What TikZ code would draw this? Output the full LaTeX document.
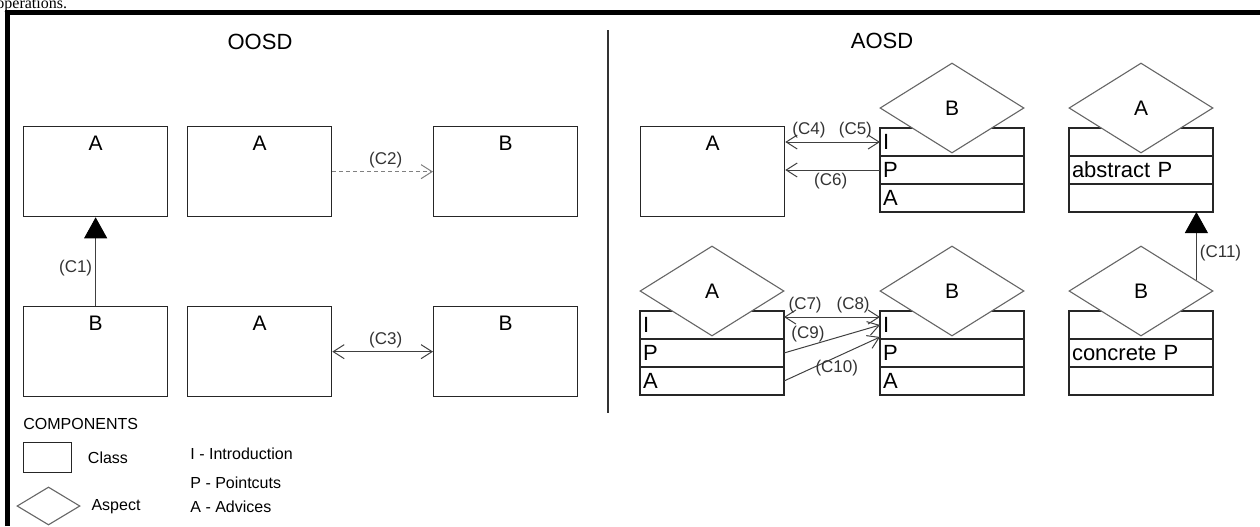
\documentclass[tikz,border=0pt]{standalone}
\usepackage{fontspec}
\setmainfont{Liberation Sans}
\newfontfamily\serifa{Liberation Serif}
\usetikzlibrary{shapes.geometric,arrows.meta,calc}

\begin{document}
\begin{tikzpicture}[x=0.5pt,y=-0.5pt,
    >={Straight Barb[length=5.5pt,width=7pt]},
    classe/.style={draw=black!85,line width=0.65pt,minimum width=72pt,
      inner xsep=0pt,inner ysep=0pt,text height=12pt,text depth=33pt,
      font=\fontsize{10.5}{12}\selectfont},
    fila/.style={draw=black!85,line width=0.65pt,minimum height=14pt,outer sep=0pt,
      inner xsep=1.5pt,inner ysep=0pt,text width=69pt,align=left,
      font=\fontsize{11}{12}\selectfont},
    aspecto/.style={diamond,draw=black!60,line width=0.55pt,fill=white,
      minimum width=72pt,minimum height=45pt,inner sep=0pt,
      font=\fontsize{10.5}{12}\selectfont},
    liga/.style={draw=black!75,line width=0.5pt},
    heranca/.style={liga,-{Triangle[width=11.5pt,length=10.5pt,fill=black,color=black]}},
    rot/.style={font=\fontsize{8.5}{10}\selectfont,text=black!80,inner sep=1.5pt},
    leg/.style={font=\fontsize{8}{10}\selectfont,inner sep=0pt},
    titulo/.style={font=\fontsize{11}{13}\selectfont}]
  \useasboundingbox (0,0) rectangle (1260,526);
  % texto da página e moldura
  \node[anchor=base west,inner sep=0pt,font=\serifa\fontsize{8}{9}\selectfont] (prosa) at (-4,8.5) {operations.};
  \draw[line width=2.5pt,line join=miter] (7.5,526) -- (7.5,12.5) -- (1260,12.5);
  \draw[black!80,line width=0.65pt] (608,30) -- (608,413);
  \node[titulo] (oosd) at (260,42) {OOSD};
  \node[titulo] (aosd) at (882,41) {AOSD};
  % classes simples
  \foreach \n/\x/\y/\t in {ooA1/23/126/A, ooA2/187/126/A, ooB2/433/126/B,
                           ooB1/23/306/B, ooA3/187/306/A, ooB3/433/306/B, aoA/640/126/A}
    \node[classe,anchor=north west] (\n) at (\x,\y) {\t};
  % aspectos: três linhas + losango por cima
  \foreach \n/\x/\y/\t/\ra/\rb/\rc in {aspB/880/128/B/I/P/A, aspAbs/1069/128/A/{}/abstract P/{},
                                       aspA/640/311/A/I/P/A, aspB2/880/311/B/I/P/A,
                                       aspBc/1069/311/B/{}/concrete P/{}} {
    \node[fila,anchor=north west] (\n-1) at (\x,\y) {\ra};
    \node[fila,anchor=north] (\n-2) at (\n-1.south) {\rb};
    \node[fila,anchor=north] (\n-3) at (\n-2.south) {\rc};
    \node[aspecto] (\n-d) at ([yshift=10pt]\n-1.north) {\t};
  }
  % ligações OOSD
  \draw[heranca] (ooB1) -- node[rot,left,pos=0.43] (c1) {(C1)} (ooA1);
  \draw[liga,draw=black!50,dash pattern=on 2pt off 1.5pt,->] (ooA2) -- node[rot,above,pos=0.53] (c2) {(C2)} (ooB2);
  \draw[liga,<->] (ooA3) -- node[rot,above,pos=0.53] (c3) {(C3)} (ooB3);
  % ligações AOSD
  \draw[liga,<->] (aoA.east |- aspB-1) -- (aspB-1.west)
    node[rot,above,pos=0.25] (c4) {(C4)} node[rot,above,pos=0.74] (c5) {(C5)};
  \draw[liga,->] (aspB-2.west) -- (aoA.east |- aspB-2) node[rot,below,pos=0.52] (c6) {(C6)};
  \draw[liga,<->] ([yshift=4pt]aspA-1.east) -- ([yshift=4pt]aspB2-1.west)
    node[rot,above,pos=0.22] (c7) {(C7)} node[rot,above,pos=0.72] (c8) {(C8)};
  \draw[liga,->] (aspA-2.east) -- (aspB2-1.west) node[rot,above,pos=0.25] (c9) {(C9)};
  \draw[liga,->] (aspA-3.east) -- ([yshift=-6pt]aspB2-1.west) node[rot,below,pos=0.55] (c10) {(C10)};
  \draw[heranca] (aspBc-d.11.3) -- (aspBc-d.11.3 |- aspAbs-3.south) node[rot,right,pos=0.4] (c11) {(C11)};
  % legenda
  \node[leg,anchor=west] (comp) at (23,424) {COMPONENTS};
  \node[draw=black!85,line width=0.65pt,minimum width=24pt,minimum height=15pt,inner sep=0pt,anchor=north west] (legC) at (23,442) {};
  \node[leg] (legCt) at (108,458) {Class};
  \node[aspecto,minimum width=31.5pt,minimum height=19pt] (legA) at (48.5,506) {};
  \node[leg] (legAt) at (116,507) {Aspect};
  \node[leg,anchor=west] (legI) at (190,454) {I - Introduction};
  \node[leg,anchor=west] (legP) at (190,483) {P - Pointcuts};
  \node[leg,anchor=west] (legAd) at (190,507) {A - Advices};
\end{tikzpicture}
\end{document}
